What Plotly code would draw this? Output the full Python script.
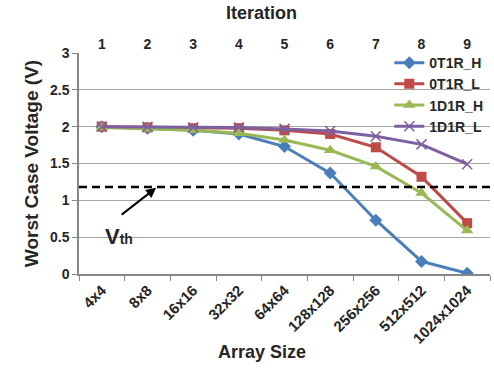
import plotly.graph_objects as go

array_sizes = ["4x4", "8x8", "16x16", "32x32", "64x64", "128x128", "256x256", "512x512", "1024x1024"]
iterations = ["1", "2", "3", "4", "5", "6", "7", "8", "9"]

t0_h = [2.00, 1.98, 1.95, 1.90, 1.73, 1.37, 0.73, 0.17, 0.01]
t0_l = [2.00, 1.99, 1.98, 1.98, 1.95, 1.90, 1.72, 1.32, 0.69]
d1_h = [1.99, 1.97, 1.95, 1.91, 1.82, 1.68, 1.46, 1.10, 0.59]
d1_l = [2.00, 2.00, 1.99, 1.99, 1.97, 1.94, 1.87, 1.76, 1.49]
vth = 1.18

FONT = "Liberation Sans, Arial, sans-serif"
TXT = "#262626"

fig = go.Figure()

series = [
    ("0T1R_H", t0_h, "#4a7ebb", "diamond", 10, None),
    ("0T1R_L", t0_l, "#be4b48", "square", 10, None),
    ("1D1R_H", d1_h, "#98b954", "triangle-up", 11, None),
    ("1D1R_L", d1_l, "#7d60a0", "x-thin-open", 10, 1.5),
]
for name, vals, col, sym, sz, lw in series:
    marker = dict(symbol=sym, size=sz, color=col)
    if lw:
        marker["line"] = dict(color=col, width=lw)
    fig.add_trace(go.Scatter(
        x=array_sizes, y=vals, name=name, mode="lines+markers",
        line=dict(color=col, width=3), marker=marker,
    ))

# invisible trace for top axis
fig.add_trace(go.Scatter(x=iterations, y=[None] * len(iterations), xaxis="x2",
                         showlegend=False, hoverinfo="skip", mode="markers"))

fig.add_shape(type="line", xref="paper", yref="y", x0=0, x1=1, y0=vth, y1=vth,
              line=dict(color="black", width=2.5, dash="8px,5px"))

fig.add_annotation(x=1.19, y=vth - 0.01, xref="x", yref="y", text="", showarrow=True,
                   arrowhead=2, arrowsize=1, arrowwidth=2, arrowcolor="black",
                   ax=-36, ay=28)
fig.add_annotation(x=0.38, y=0.51, xref="x", yref="y",
                   text="<b>V<span style='font-size:14px'>th</span></b>",
                   showarrow=False, font=dict(family=FONT, size=22, color=TXT))

# axis titles (placed like the reference)
fig.add_annotation(x=0.445, y=-0.353, xref="paper", yref="paper", text="<b>Array Size</b>",
                   xanchor="center", yanchor="middle",
                   showarrow=False, font=dict(family=FONT, size=18, color=TXT))
fig.add_annotation(x=0.445, y=1.181, xref="paper", yref="paper", text="<b>Iteration</b>",
                   xanchor="center", yanchor="middle",
                   showarrow=False, font=dict(family=FONT, size=18, color=TXT))

fig.update_layout(
    width=494, height=369,
    margin=dict(l=79, r=4, t=53, b=95),
    paper_bgcolor="white", plot_bgcolor="white",
    font=dict(family=FONT, color=TXT),
    xaxis=dict(type="category", range=[-0.5, 8.5], tickangle=-45,
               showline=True, linecolor="#868686", linewidth=1.5,
               tickfont=dict(family=FONT, size=15, color=TXT, weight="bold"),
               ticks="outside", ticklen=5, tickcolor="#868686", tickson="boundaries",
               showgrid=False, zeroline=False),
    xaxis2=dict(type="category", range=[-0.5, 8.5], overlaying="x", side="top",
                showgrid=False, showline=False, ticks="",
                tickfont=dict(family=FONT, size=14, color=TXT, weight="bold")),
    yaxis=dict(range=[0, 3], dtick=0.5, tickformat="~g", showgrid=True, gridcolor="#a6a6a6",
               gridwidth=1, zeroline=False, ticks="outside", ticklen=5, tickcolor="#868686",
               showline=True, linecolor="#868686", linewidth=1.5,
               tickfont=dict(family=FONT, size=14, color=TXT, weight="bold"),
               title=dict(text="<b>Worst Case Voltage (V)</b>", font=dict(family=FONT, size=19, color=TXT), standoff=6)),
    legend=dict(x=0.755, y=1.027, xanchor="left", yanchor="top", bgcolor="rgba(255,255,255,0)",
                font=dict(family=FONT, size=14, color=TXT, weight="bold"),
                itemwidth=30, tracegroupgap=0),
    showlegend=True,
)

fig.write_html("out.html")
